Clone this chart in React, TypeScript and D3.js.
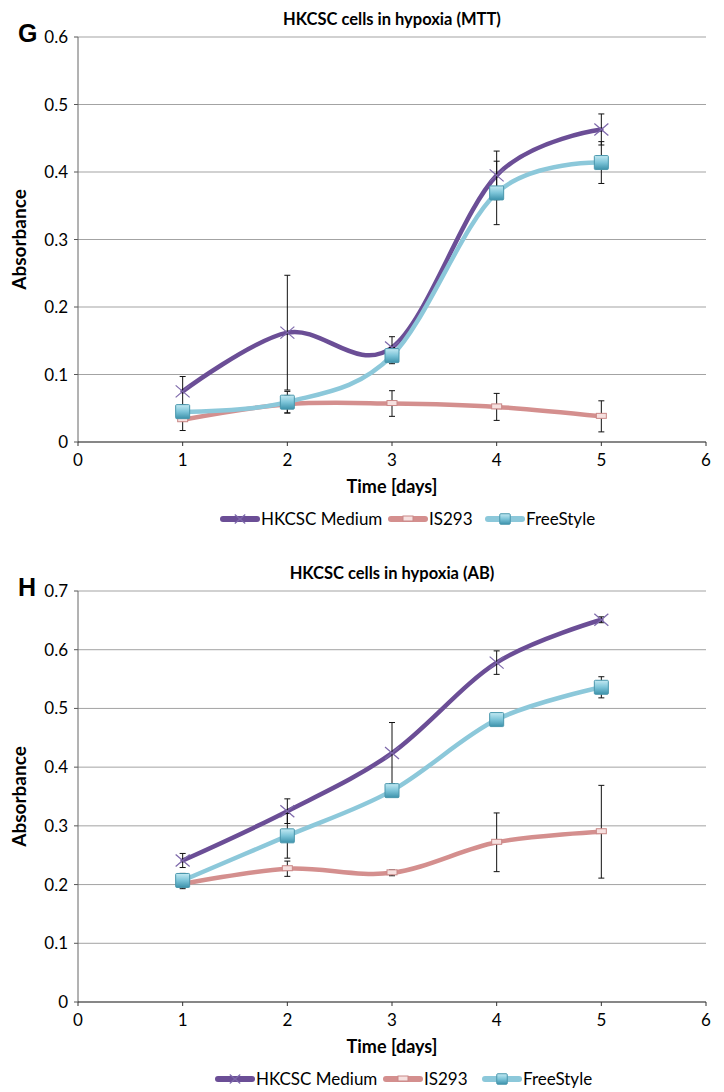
import React from "react";
import * as d3 from "d3";

const days = [1, 2, 3, 4, 5];
const xTicks = [0, 1, 2, 3, 4, 5, 6];
const seriesNames = ["HKCSC Medium", "IS293", "FreeStyle"];

const mttHKCSC = [0.075, 0.162, 0.14, 0.395, 0.463];
const mttHKCSCErr = [0.022, 0.085, 0.016, 0.036, 0.023];
const mttIS293 = [0.033, 0.056, 0.057, 0.052, 0.038];
const mttIS293Err = [0.016, 0.013, 0.019, 0.02, 0.023];
const mttFree = [0.045, 0.059, 0.128, 0.369, 0.414];
const mttFreeErr = [0.01, 0.016, 0.012, 0.047, 0.031];
const mttYTicks = [0, 0.1, 0.2, 0.3, 0.4, 0.5, 0.6];

const abHKCSC = [0.241, 0.325, 0.424, 0.578, 0.651];
const abHKCSCErr = [0.012, 0.021, 0.052, 0.02, 0.005];
const abIS293 = [0.201, 0.227, 0.22, 0.272, 0.29];
const abIS293Err = [0.008, 0.013, 0.005, 0.05, 0.079];
const abFree = [0.207, 0.283, 0.36, 0.481, 0.536];
const abFreeErr = [0.012, 0.038, 0.005, 0.005, 0.018];
const abYTicks = [0, 0.1, 0.2, 0.3, 0.4, 0.5, 0.6, 0.7];

const COLORS = ["#6b4e96", "#d48f8e", "#8cc8da"];
const FONT = "Lato, 'Open Sans', sans-serif";

type Series = { values: number[]; errs: number[] };

function Marker({ kind, x, y, s = 1 }: { kind: number; x: number; y: number; s?: number }) {
  if (kind === 0) {
    return (
      <g stroke="#7d68aa" strokeWidth={1.2}>
        <line x1={x - 7 * s} y1={y - 6 * s} x2={x + 7 * s} y2={y + 6 * s} />
        <line x1={x - 7 * s} y1={y + 6 * s} x2={x + 7 * s} y2={y - 6 * s} />
      </g>
    );
  }
  if (kind === 1) {
    return <rect x={x - 5} y={y - 3} width={10} height={5} fill="#f6e0df" stroke="#c98887" strokeWidth={1} />;
  }
  return (
    <rect x={x - 7 * s} y={y - 7 * s} width={14 * s} height={14 * s} fill="url(#sqGrad)" stroke="#4a97ad" strokeWidth={1} rx={1} />
  );
}

function Chart({
  top,
  bottom,
  yMax,
  yTicks,
  title,
  letter,
  series,
  legendX,
}: {
  top: number;
  bottom: number;
  yMax: number;
  yTicks: number[];
  title: string;
  letter: string;
  series: Series[];
  legendX: number[];
}) {
  const left = 78;
  const right = 706;
  const x = d3.scaleLinear().domain([0, 6]).range([left, right]);
  const y = d3.scaleLinear().domain([0, yMax]).range([bottom, top]);
  const line = d3
    .line<number>()
    .x((_, i) => x(days[i]))
    .y((v) => y(v))
    .curve(d3.curveCardinal.tension(0));
  const fmt = (v: number) => (v === 0 ? "0" : d3.format(".1f")(v));
  const cx = (left + right) / 2;
  return (
    <g fontFamily={FONT}>
      <text x={cx} y={top - 12} textAnchor="middle" fontSize={16.5} fontWeight="bold">
        {title}
      </text>
      <text x={18} y={top + 5} fontSize={25} fontWeight="bold" fontFamily="'Liberation Sans', Arial, sans-serif">
        {letter}
      </text>
      {yTicks.map((t) =>
        t > 0 ? <line key={"g" + t} x1={left} x2={right} y1={y(t)} y2={y(t)} stroke="#a3a3a3" strokeWidth={1} /> : null
      )}
      {yTicks.map((t) => (
        <g key={"yt" + t}>
          <line x1={left - 4} x2={left} y1={y(t)} y2={y(t)} stroke="#555" />
          <text x={left - 10} y={y(t) + 6} textAnchor="end" fontSize={17}>
            {fmt(t)}
          </text>
        </g>
      ))}
      <line x1={left} x2={left} y1={top} y2={bottom} stroke="#666" strokeWidth={1} />
      <line x1={left} x2={right} y1={bottom} y2={bottom} stroke="#111" strokeWidth={1.2} />
      {xTicks.map((t) => (
        <g key={"xt" + t}>
          <line x1={x(t)} x2={x(t)} y1={bottom} y2={bottom + 4} stroke="#333" />
          <text x={x(t)} y={bottom + 24} textAnchor="middle" fontSize={17}>
            {t}
          </text>
        </g>
      ))}
      <text
        transform={`translate(26,${(top + bottom) / 2}) rotate(-90)`}
        textAnchor="middle"
        fontSize={19}
        fontWeight="bold"
      >
        Absorbance
      </text>
      <text x={cx} y={bottom + 51} textAnchor="middle" fontSize={18} fontWeight="bold">
        Time [days]
      </text>
      {series.map((s, k) => (
        <path key={"l" + k} d={line(s.values) || ""} fill="none" stroke={COLORS[k]} strokeWidth={4.5} strokeLinecap="round" />
      ))}
      {series.map((s, k) =>
        s.values.map((v, i) => {
          const px = x(days[i]);
          const y1 = y(v + s.errs[i]);
          const y2 = y(v - s.errs[i]);
          return (
            <g key={"e" + k + i} stroke="#111" strokeWidth={1}>
              <line x1={px} x2={px} y1={y1} y2={y2} />
              <line x1={px - 3} x2={px + 3} y1={y1} y2={y1} />
              <line x1={px - 3} x2={px + 3} y1={y2} y2={y2} />
            </g>
          );
        })
      )}
      {series.map((s, k) => s.values.map((v, i) => <Marker key={"m" + k + i} kind={k} x={x(days[i])} y={y(v)} />))}
      {seriesNames.map((n, k) => {
        const lx = legendX[k];
        const ly = bottom + 77;
        return (
          <g key={"lg" + k}>
            <line x1={lx + 3} x2={lx + 37} y1={ly} y2={ly} stroke={COLORS[k]} strokeWidth={6} strokeLinecap="round" />
            <Marker kind={k} x={lx + 20} y={ly} s={0.75} />
            <text x={lx + 41} y={ly + 6} fontSize={17}>
              {n}
            </text>
          </g>
        );
      })}
    </g>
  );
}

export default function App() {
  const mttSeries: Series[] = [
    { values: mttHKCSC, errs: mttHKCSCErr },
    { values: mttIS293, errs: mttIS293Err },
    { values: mttFree, errs: mttFreeErr },
  ];
  const abSeries: Series[] = [
    { values: abHKCSC, errs: abHKCSCErr },
    { values: abIS293, errs: abIS293Err },
    { values: abFree, errs: abFreeErr },
  ];
  return (
    <svg width={724} height={1092} style={{ position: "absolute", left: 0, top: 0, background: "#fff" }}>
      <defs>
        <linearGradient id="sqGrad" x1="0" y1="0" x2="0" y2="1">
          <stop offset="0" stopColor="#c4eaf3" />
          <stop offset="0.5" stopColor="#7cc4d8" />
          <stop offset="1" stopColor="#3d92ab" />
        </linearGradient>
      </defs>
      <rect width={724} height={1092} fill="#fff" />
      <Chart
        top={37}
        bottom={442}
        yMax={0.6}
        yTicks={mttYTicks}
        title="HKCSC cells in hypoxia (MTT)"
        letter="G"
        series={mttSeries}
        legendX={[220, 388, 485]}
      />
      <Chart
        top={591}
        bottom={1002}
        yMax={0.7}
        yTicks={abYTicks}
        title="HKCSC cells in hypoxia (AB)"
        letter="H"
        series={abSeries}
        legendX={[215, 383, 482]}
      />
    </svg>
  );
}
